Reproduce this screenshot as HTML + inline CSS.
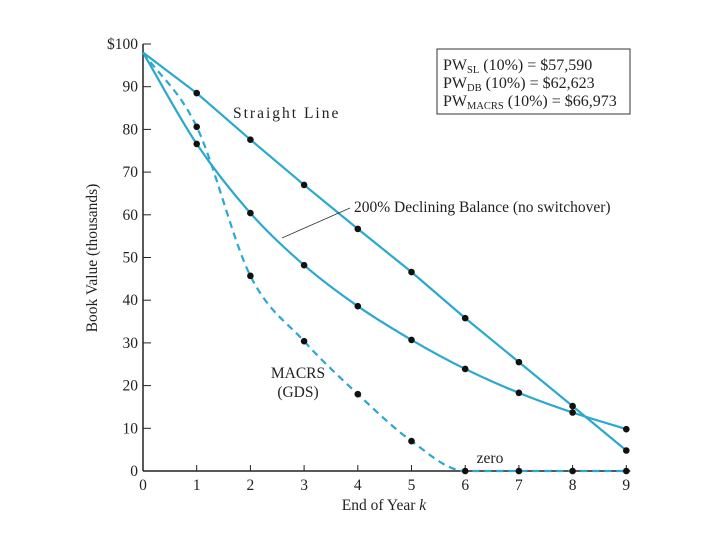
<!DOCTYPE html>
<html><head><meta charset="utf-8"><style>
body{margin:0;background:#fff;}
svg text{font-family:"Liberation Serif",serif;fill:#222;}
</style></head><body>
<svg id="chart" width="720" height="540" xmlns="http://www.w3.org/2000/svg">
<g id="axes"></g>
<g id="series"></g>
<text transform="translate(97,258) rotate(-90)" text-anchor="middle" font-size="15.5">Book Value (thousands)</text>
<text x="384" y="510" text-anchor="middle" font-size="15.5">End of Year <tspan font-style="italic">k</tspan></text>
<text x="233" y="118" font-size="15.5" letter-spacing="2">Straight Line</text>
<text x="354" y="212" font-size="15.5">200% Declining Balance (no switchover)</text>
<line x1="282" y1="238" x2="350" y2="208" stroke="#333" stroke-width="0.8"/>
<text x="298" y="378" text-anchor="middle" font-size="15.5">MACRS</text>
<text x="298" y="397" text-anchor="middle" font-size="15.5">(GDS)</text>
<text x="490" y="463" text-anchor="middle" font-size="15.5">zero</text>
<g>
<rect x="437" y="49" width="193" height="65" fill="#fff" stroke="#333" stroke-width="1"/>
<text x="443" y="70" font-size="16">PW<tspan font-size="10.5" dy="3">SL</tspan><tspan dy="-3"> (10%) = $57,590</tspan></text>
<text x="443" y="88" font-size="16">PW<tspan font-size="10.5" dy="3">DB</tspan><tspan dy="-3"> (10%) = $62,623</tspan></text>
<text x="443" y="106" font-size="16">PW<tspan font-size="10.5" dy="3">MACRS</tspan><tspan dy="-3"> (10%) = $66,973</tspan></text>
</g>
</svg>
<script>
const years=[0,1,2,3,4,5,6,7,8,9];
const slValues=[98,88.5,77.6,67.0,56.7,46.6,35.8,25.5,15.2,4.8];
const dbValues=[98,76.6,60.4,48.2,38.6,30.7,23.9,18.3,13.7,9.8];
const macrsValues=[98,80.6,45.7,30.4,18.0,7.0,0,0,0,0];
const yTicks=[0,10,20,30,40,50,60,70,80,90,100];
const yTickLabels=["0","10","20","30","40","50","60","70","80","90","$100"];
const NS="http://www.w3.org/2000/svg";
const X=v=>143+v*53.7;
const Y=v=>471-v*4.27;
function mk(tag,attrs,parent){const e=document.createElementNS(NS,tag);for(const k in attrs)e.setAttribute(k,attrs[k]);parent.appendChild(e);return e;}
const ax=document.getElementById('axes');
let a=mk('line',{x1:X(0),y1:Y(0),x2:X(9)+4,y2:Y(0),stroke:'#222','stroke-width':1.5},ax);

a=mk('line',{x1:X(0),y1:Y(0),x2:X(0),y2:Y(100),stroke:'#222','stroke-width':1.5},ax);

yTicks.forEach((t,i)=>{
 const l=mk('line',{x1:X(0),y1:Y(t),x2:X(0)+8,y2:Y(t),stroke:'#222','stroke-width':1},ax);
 
 const tx=mk('text',{x:X(0)-5,y:Y(t)+5,'text-anchor':'end','font-size':15.5},ax);tx.textContent=yTickLabels[i];
 
});
years.forEach(y=>{
 const l=mk('line',{x1:X(y),y1:Y(0),x2:X(y),y2:Y(0)-6,stroke:'#222','stroke-width':1},ax);
 
 const tx=mk('text',{x:X(y),y:Y(0)+19,'text-anchor':'middle','font-size':15.5},ax);tx.textContent=String(y);
 
});
// monotone cubic interpolation (no overshoot)
function monotonePath(pts){
 const n=pts.length,dx=[],s=[],m=[];
 for(let i=0;i<n-1;i++){dx[i]=pts[i+1][0]-pts[i][0];s[i]=(pts[i+1][1]-pts[i][1])/dx[i];}
 m[0]=s[0];m[n-1]=s[n-2];
 for(let i=1;i<n-1;i++){m[i]=(s[i-1]*s[i]<=0)?0:(s[i-1]+s[i])/2;}
 for(let i=0;i<n-1;i++){
  if(s[i]===0){m[i]=0;m[i+1]=0;continue;}
  const a=m[i]/s[i],b=m[i+1]/s[i],h=a*a+b*b;
  if(h>9){const t=3/Math.sqrt(h);m[i]=t*a*s[i];m[i+1]=t*b*s[i];}
 }
 let d='M'+pts[0][0]+','+pts[0][1];
 for(let i=0;i<n-1;i++){
  const h=dx[i]/3;
  d+=' C'+(pts[i][0]+h)+','+(pts[i][1]+m[i]*h)+' '+(pts[i+1][0]-h)+','+(pts[i+1][1]-m[i+1]*h)+' '+pts[i+1][0]+','+pts[i+1][1];
 }
 return d;
}
const sg=document.getElementById('series');
function series(vals,name,dash,smooth){
 const g=mk('g',{},sg);
 
 const pts=years.map((y,i)=>[X(y),Y(vals[i])]);
 const d=smooth?monotonePath(pts):'M'+pts.map(p=>p.join(',')).join(' L');
 const p=mk('path',{d:d,fill:'none',stroke:'#2aa8d0','stroke-width':2.2,'stroke-dasharray':dash||'none'},g);
 
 years.forEach((y,i)=>{if(i===0)return;
  const c=mk('circle',{cx:X(y),cy:Y(vals[i]),r:3.3,fill:'#111'},g);
  
 });
}
series(slValues,'straight-line-series',null,false);
series(dbValues,'declining-balance-series',null,true);
series(macrsValues,'macrs-series','7,5',true);
</script>
</body></html>
